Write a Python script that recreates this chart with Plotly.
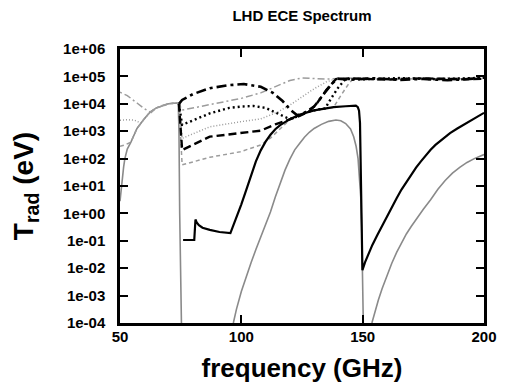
import plotly.graph_objects as go

# ---------------- data (frequency in GHz, T_rad in eV) ----------------
gray1_f = [50, 50.5, 51, 51.5, 52, 53, 54.5, 57, 60, 62.4, 65, 67.8, 70, 72, 73.5, 74.0, 74.3, 74.6, 75.2, 75.5]
gray1_T = [2.8, 9.0, 22, 50, 100, 224, 398, 1259, 2818, 5012, 7079, 8913, 1.0e4, 1.05e4, 1.07e4, 1.0e4, 1000, 1, 1e-4, 1e-5]

gray2_f = [96.7, 98, 100, 102, 104, 106, 108, 110, 112, 114, 116, 118, 120, 122, 124, 126, 128, 130, 133, 136, 139, 141, 143, 145, 146.3, 147.3, 148.1, 148.7, 149.2, 149.6, 150.0, 150.3]
gray2_T = [1e-4, 3.2e-4, 1.41e-3, 5.0e-3, 0.0158, 0.0479, 0.141, 0.398, 1.12, 3.98, 13.2, 38, 95.5, 209, 355, 603, 912, 1259, 1778, 2291, 2570, 2399, 1905, 1202, 631, 282, 100, 25, 4, 0.316, 3.2e-3, 6.3e-5]

gray3_f = [153.8, 155, 156.5, 158, 160, 162, 164, 166, 168, 170, 172, 175, 178, 181, 184, 187, 190, 193, 196, 200]
gray3_T = [1e-4, 2.5e-4, 7.1e-4, 1.78e-3, 5.6e-3, 0.0151, 0.038, 0.085, 0.178, 0.331, 0.603, 1.41, 3.16, 7.59, 15.8, 29.5, 47.9, 72.4, 100, 141]

black_f = [76, 80.6, 81.1, 81.6, 82.5, 84, 87, 91, 95.5, 96.5, 98, 100, 102, 104, 106, 108, 110, 112, 114, 116, 118, 120, 123, 126, 130, 134, 138, 143, 147.2, 148.0, 148.5, 148.9, 149.2, 149.6, 149.9,
           151, 152.5, 154, 156, 158, 160, 162, 164, 166, 168, 170, 172, 174, 176, 178, 180, 183, 186, 189, 192, 195, 198, 200]
black_T = [0.107, 0.107, 0.6, 0.47, 0.37, 0.30, 0.25, 0.21, 0.19, 0.316, 0.759, 2.14, 7.08, 24, 79.4, 200, 417, 741, 1175, 1660, 2188, 2754, 3631, 4571, 5754, 6761, 7586, 8128, 8511, 7586, 5623, 1995, 31.6, 0.158, 8.5e-3,
           0.0166, 0.0355, 0.0708, 0.158, 0.355, 0.794, 1.66, 3.55, 7.41, 14.1, 26.3, 46.8, 79.4, 132, 209, 316, 537, 851, 1259, 1820, 2630, 3715, 4677]

dashdot_f = [74.3, 75.6, 80, 87, 95, 101, 108, 113, 117, 120, 123, 126, 130, 134, 137, 139.5, 145, 155, 165, 175, 185, 200]
dashdot_T = [1.0e4, 1.38e4, 2.24e4, 3.72e4, 4.79e4, 5.25e4, 4.17e4, 2.51e4, 1.26e4, 6310, 3800, 4700, 7943, 2.24e4, 5.0e4, 8.3e4, 7.6e4, 8.6e4, 7.4e4, 8.1e4, 7.2e4, 8.6e4]

gdash_f = [50, 53, 57, 60, 62.8, 65, 67.8, 70, 73.5, 74.3, 75.6, 87, 100, 108, 115, 120, 125, 135, 150, 165, 180, 200]
gdash_T = [2.63e4, 2.0e4, 1.07e4, 6607, 4800, 7079, 8913, 1.0e4, 1.07e4, 1.0e4, 5888, 9120, 1.58e4, 2.51e4, 4.47e4, 7.08e4, 8.8e4, 8.0e4, 8.9e4, 7.8e4, 8.6e4, 9.0e4]

gdot_f = [50, 53, 56, 58.5, 60, 62.4, 65, 67.8, 70, 73.5, 74.3, 75.6, 87, 100, 108, 115, 120, 125, 130, 135, 140, 150, 170, 200]
gdot_T = [2512, 2630, 2512, 1995, 2818, 5012, 7079, 8913, 1.0e4, 1.07e4, 1.0e4, 549, 1445, 2239, 2818, 5012, 8913, 1.78e4, 3.55e4, 6.3e4, 8.6e4, 7.7e4, 8.8e4, 8.0e4]

gdd_f = [50, 52, 54.5, 57, 60, 62.4, 65, 67.8, 70, 73.5, 74.3, 75.6, 87, 99.6, 108, 112, 116, 120, 124, 127, 132, 138, 141, 144, 146, 155, 170, 185, 200]
gdd_T = [282, 316, 398, 1259, 2818, 5012, 7079, 8913, 1.0e4, 1.07e4, 1.0e4, 59, 112, 178, 316, 562, 1259, 2630, 3802, 5012, 6310, 7413, 2.0e4, 5.0e4, 8.2e4, 7.5e4, 8.4e4, 7.6e4, 8.8e4]

bdot_f = [74.3, 75.6, 87, 95, 100, 105, 110, 115, 119, 121, 124, 127, 132, 134.5, 137, 140, 143, 150, 165, 180, 200]
bdot_T = [1.0e4, 1698, 4467, 7079, 7943, 8318, 7079, 4467, 3020, 2884, 3802, 5012, 6310, 6761, 1.58e4, 3.98e4, 8.1e4, 7.8e4, 8.7e4, 7.9e4, 8.9e4]

bdash_f = [74.3, 75.6, 87, 99.6, 108, 114, 118, 120, 124, 128, 131, 135, 139, 145, 160, 175, 190, 200]
bdash_T = [1.0e4, 204, 631, 832, 1047, 1778, 2399, 2754, 3631, 5300, 1.0e4, 3.16e4, 8.0e4, 8.4e4, 7.7e4, 8.5e4, 7.8e4, 8.2e4]

x_ticks = [50, 100, 150, 200]
x_ticktext = ["50", "100", "150", "200"]
y_ticks = [1e-4, 1e-3, 1e-2, 1e-1, 1e0, 1e1, 1e2, 1e3, 1e4, 1e5, 1e6]
y_ticktext = ["1e-04", "1e-03", "1e-02", "1e-01", "1e+00", "1e+01", "1e+02", "1e+03", "1e+04", "1e+05", "1e+06"]

# ---------------- figure ----------------
FONT = "Liberation Sans, Arial, Helvetica, sans-serif"
GRAY = "#8a8a8a"
LGRAY = "#9c9c9c"

# the page body has an 8px default margin, so the figure is 8px smaller
W, H = 499, 379

fig = go.Figure()

def add(f, T, color, width, dash="solid"):
    fig.add_trace(go.Scatter(x=f, y=T, mode="lines",
                             line=dict(color=color, width=width, dash=dash),
                             hoverinfo="skip", showlegend=False))

add(gray1_f, gray1_T, GRAY, 1.6)
add(gray2_f, gray2_T, GRAY, 1.6)
add(gray3_f, gray3_T, GRAY, 1.6)
add(gdd_f, gdd_T, LGRAY, 1.5, "4px,3px")
add(gdot_f, gdot_T, LGRAY, 1.5, "1px,2px")
add(gdash_f, gdash_T, LGRAY, 1.5, "2px,3px,7px,3px")
add(bdash_f, bdash_T, "black", 2.4, "8px,4px")
add(bdot_f, bdot_T, "black", 2.4, "2px,3px")
add(black_f, black_T, "black", 2.2)
add(dashdot_f, dashdot_T, "black", 2.6, "10px,4px,3px,4px")

axis_common = dict(
    ticks="inside", ticklen=8, tickwidth=2, tickcolor="black",
    showline=True, linewidth=2.5, linecolor="black", mirror="allticks",
    showgrid=False, zeroline=False, automargin=False,
    tickfont=dict(family=FONT, size=15, color="black", weight="bold"),
)

fig.update_layout(
    width=W, height=H,
    margin=dict(l=112, r=23, t=41, b=64),
    paper_bgcolor="white", plot_bgcolor="white",
    showlegend=False,
    title=dict(text="LHD ECE Spectrum", x=0.5, xref="paper", xanchor="center",
               y=1 - 8 / H, yref="container", yanchor="middle",
               font=dict(family=FONT, size=15, color="black", weight="bold")),
    xaxis=dict(range=[50, 200], tickvals=x_ticks, ticktext=x_ticktext,
               ticklabelstandoff=-2,
               title=dict(text="frequency (GHz)", standoff=16,
                          font=dict(family=FONT, size=26, color="black", weight="bold")),
               **axis_common),
    yaxis=dict(type="log", range=[-4, 6], tickvals=y_ticks, ticktext=y_ticktext,
               ticklabelstandoff=9,
               title=dict(text="T<sub>rad</sub> (eV)", standoff=26,
                          font=dict(family=FONT, size=28, color="black", weight="bold")),
               **axis_common),
)

fig.write_html("out.html")
